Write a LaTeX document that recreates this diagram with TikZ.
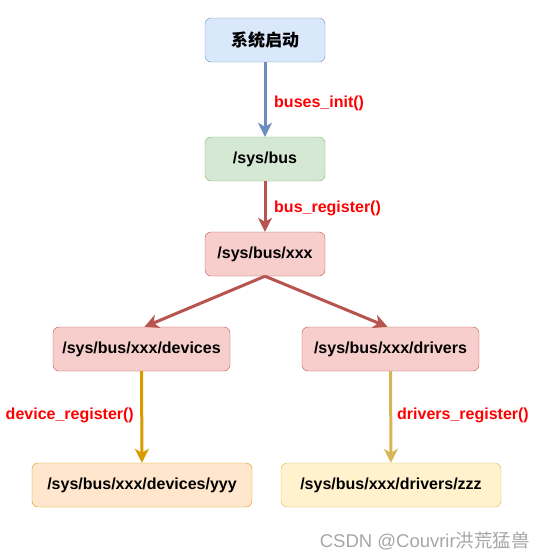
\documentclass[tikz,border=0pt]{standalone}
\usepackage{fontspec}
\setmainfont{Liberation Sans}
\newfontfamily\cjk{Noto Sans CJK SC}
\usetikzlibrary{arrows.meta}
\definecolor{bluefill}{HTML}{DAE8FC}\definecolor{blueline}{HTML}{6C8EBF}
\definecolor{greenfill}{HTML}{D5E8D4}\definecolor{greenline}{HTML}{82B366}
\definecolor{redfill}{HTML}{F8CECC}\definecolor{redline}{HTML}{B85450}
\definecolor{orangefill}{HTML}{FFE6CC}\definecolor{orangeline}{HTML}{D79B00}
\definecolor{yellowfill}{HTML}{FFF2CC}\definecolor{yellowline}{HTML}{D6B656}
\definecolor{callred}{HTML}{FF0000}
\tikzset{
  dirbox/.style={draw, rounded corners=6pt, align=center, inner sep=0pt,
    minimum height=44pt, font=\fontsize{16}{19}\selectfont\bfseries},
  callname/.style={text=callred, inner sep=0pt, font=\fontsize{16}{19}\selectfont\bfseries},
  flow/.style={line width=3pt, -{Stealth[length=14pt,width=14pt,inset=4pt]}}
}
\begin{document}
\begin{tikzpicture}[x=1pt,y=-1pt]
\useasboundingbox (0,0) rectangle (547,560);
\node[dirbox, fill=bluefill, draw=blueline, minimum width=120pt] (start) at (265,40) {\cjk\fontsize{17}{19}\selectfont 系统启动};
\node[dirbox, fill=greenfill, draw=greenline, minimum width=120pt] (bus) at (265,159) {/sys/bus};
\node[dirbox, fill=redfill, draw=redline, minimum width=120pt] (xxx) at (265,254) {/sys/bus/xxx};
\node[dirbox, fill=redfill, draw=redline, minimum width=177pt] (devices) at (141.5,349) {/sys/bus/xxx/devices};
\node[dirbox, fill=redfill, draw=redline, minimum width=177pt] (drivers) at (390.5,349) {/sys/bus/xxx/drivers};
\node[dirbox, fill=orangefill, draw=orangeline, minimum width=220pt] (yyy) at (142,485) {/sys/bus/xxx/devices/yyy};
\node[dirbox, fill=yellowfill, draw=yellowline, minimum width=220pt] (zzz) at (391,485) {/sys/bus/xxx/drivers/zzz};
% call labels
\node[callname, anchor=west] (businit) at (274,103) {buses\_init()};
\node[callname, anchor=west] (busreg) at (274,208) {bus\_register()};
\node[callname, anchor=east] (devreg) at (134,415) {device\_register()};
\node[callname, anchor=west] (drvreg) at (397,415) {drivers\_register()};
\draw[flow, blueline] (start) -- (bus);
\draw[flow, redline] (bus) -- (xxx);
\draw[flow, redline] (xxx.south) -- ([xshift=3pt]devices.north);
\draw[flow, redline] (xxx.south) -- ([xshift=-3pt]drivers.north);
\draw[flow, orangeline] (devices) -- (yyy);
\draw[flow, yellowline] (drivers) -- (zzz);
\node[text=black!35, anchor=east, inner sep=0pt, font=\fontsize{18.5}{21}\selectfont] (mark) at (530,541) {CSDN @Couvrir{\cjk 洪荒猛兽}};
\end{tikzpicture}
\end{document}
